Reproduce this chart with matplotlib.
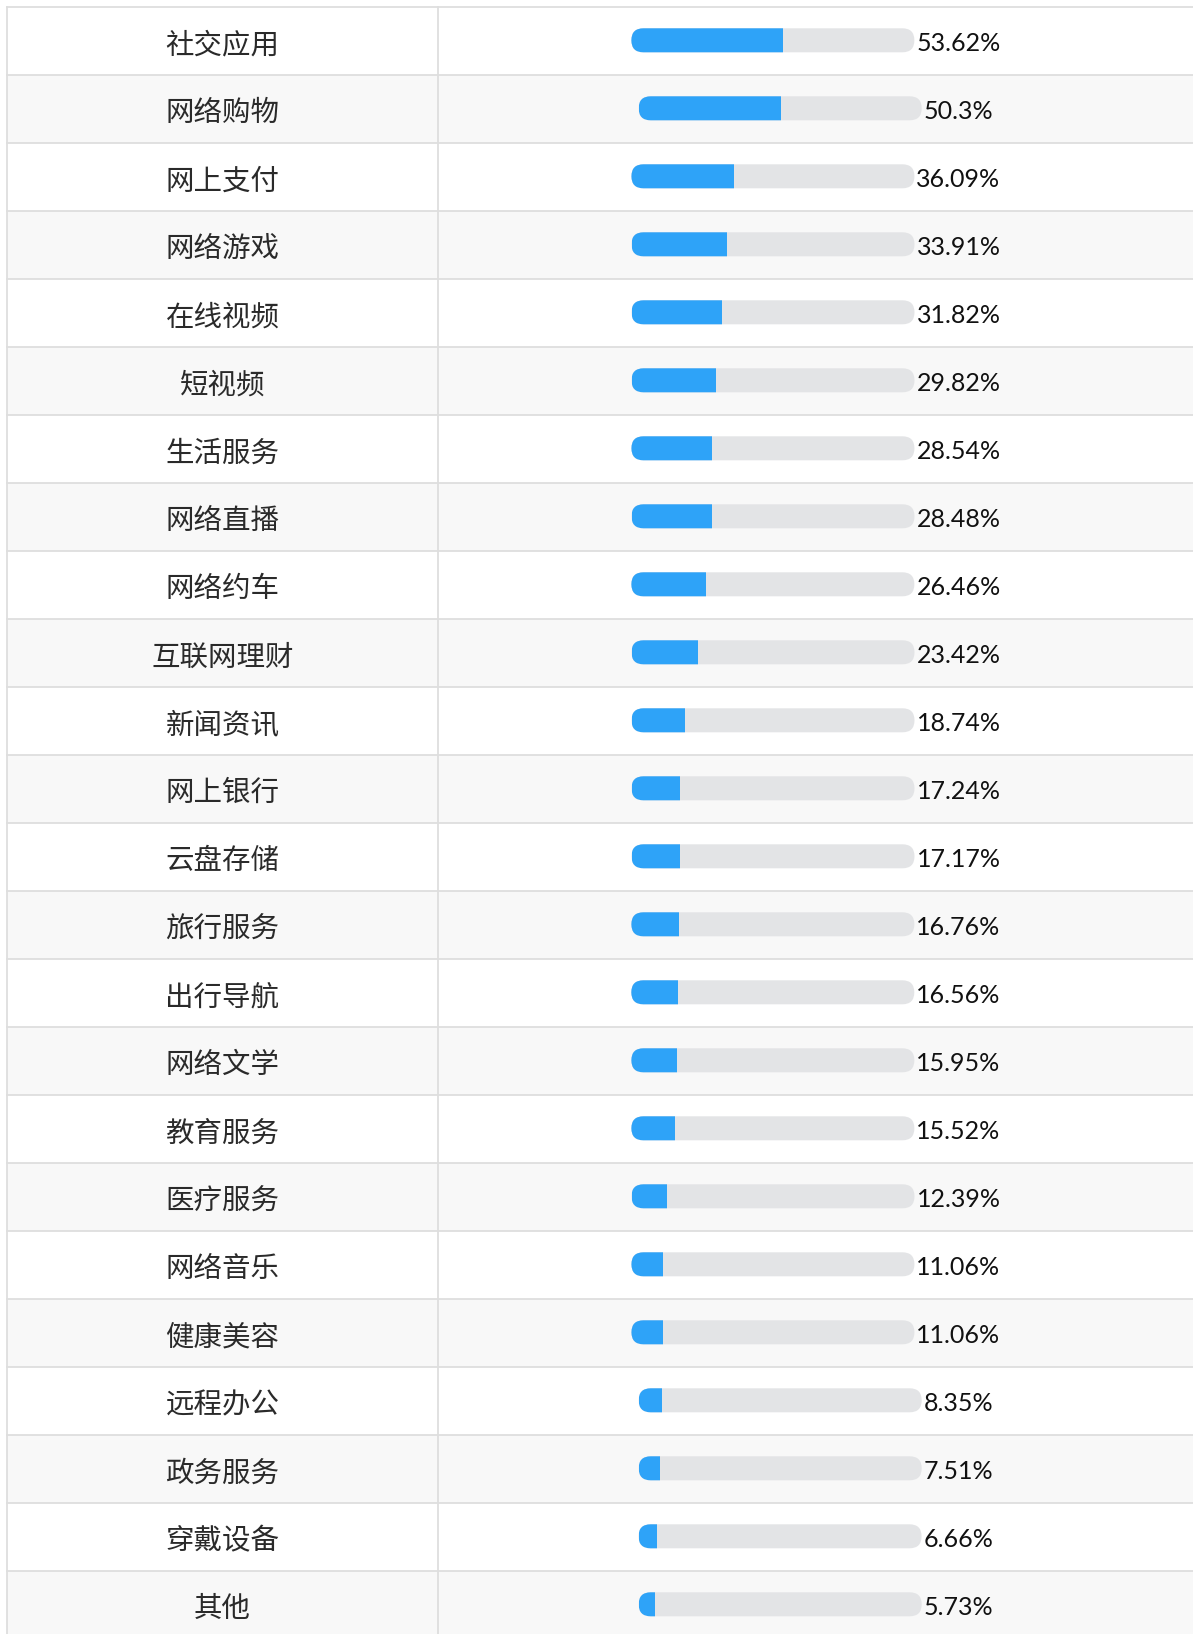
import matplotlib
matplotlib.use("Agg")
import matplotlib.pyplot as plt
from matplotlib.patches import FancyBboxPatch, Rectangle

# usage share of internet applications
apps = ["社交应用", "网络购物", "网上支付", "网络游戏", "在线视频", "短视频",
        "生活服务", "网络直播", "网络约车", "互联网理财", "新闻资讯", "网上银行",
        "云盘存储", "旅行服务", "出行导航", "网络文学", "教育服务", "医疗服务",
        "网络音乐", "健康美容", "远程办公", "政务服务", "穿戴设备", "其他"]
share = [53.62, 50.3, 36.09, 33.91, 31.82, 29.82, 28.54, 28.48, 26.46, 23.42,
         18.74, 17.24, 17.17, 16.76, 16.56, 15.95, 15.52, 12.39, 11.06, 11.06,
         8.35, 7.51, 6.66, 5.73]

W, H = 1193, 1634
fig = plt.figure(figsize=(W / 100, H / 100), dpi=100)
ax = fig.add_axes([0, 0, 1, 1])
ax.set_xlim(0, W)
ax.set_ylim(H, 0)
ax.axis("off")

top = 7.3
left = 7.3
col = 437.6
rh = 68.0
line_c = "#dedede"
track_w = 283
bar_h = 24
mid_x = 816

renderer = fig.canvas.get_renderer()

for i, (name, v) in enumerate(zip(apps, share)):
    y0 = top + i * rh
    yc = y0 + rh / 2
    bg = "#ffffff" if i % 2 == 0 else "#f8f8f8"
    ax.add_patch(Rectangle((left, y0), W - left + 5, rh, facecolor=bg,
                           edgecolor="none", zorder=0))
    ax.plot([left, W + 5], [y0, y0], color=line_c, lw=1.3, zorder=1)

    ax.text((left + col) / 2, yc + 4, name, ha="center", va="center",
            fontsize=20.5, color="#2a2a2a", family=["Noto Sans CJK SC", "DejaVu Sans"])

    t = ax.text(0, yc + 2, f"{v:g}%", ha="left", va="center", fontsize=18,
                color="#111111", family=["Lato", "DejaVu Sans"])
    tw = t.get_window_extent(renderer).width
    x0 = mid_x - (track_w + 2 + tw) / 2
    t.set_x(x0 + track_w + 2)

    by = yc - 1 - bar_h / 2
    track = FancyBboxPatch((x0, by), track_w, bar_h,
                           boxstyle=f"round,pad=0,rounding_size={bar_h / 2}",
                           facecolor="#e3e4e6", edgecolor="none", zorder=2)
    ax.add_patch(track)
    fill = FancyBboxPatch((x0, by), track_w, bar_h,
                          boxstyle=f"round,pad=0,rounding_size={bar_h / 2}",
                          facecolor="#2ea3f8", edgecolor="none", zorder=3)
    ax.add_patch(fill)
    clip = Rectangle((x0, by - 1), track_w * v / 100, bar_h + 2,
                     transform=ax.transData)
    fill.set_clip_path(clip)

ax.plot([left, left], [top, H + 5], color=line_c, lw=1.3, zorder=1)
ax.plot([col, col], [top, H + 5], color=line_c, lw=1.3, zorder=1)

fig.savefig("out.png", dpi=100)
